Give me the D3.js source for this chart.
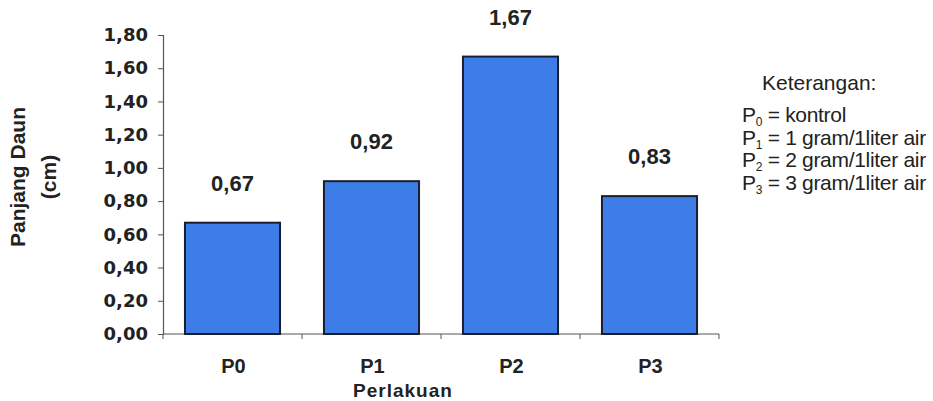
<!DOCTYPE html>
<html>
<head>
<meta charset="utf-8">
<script src="https://cdn.jsdelivr.net/npm/d3@7"></script>
<style>
  html, body { margin: 0; padding: 0; background: #fff; }
  svg { display: block; }
</style>
</head>
<body>
<svg id="chart" width="933" height="401"></svg>
<script>
// Panjang daun per perlakuan
const categories = ["P0", "P1", "P2", "P3"];
const values = [0.67, 0.92, 1.67, 0.83];
const yTicks = [0, 0.2, 0.4, 0.6, 0.8, 1.0, 1.2, 1.4, 1.6, 1.8];
const legendTitle = "Keterangan:";
const legendItems = [
  { sub: "0", text: " = kontrol" },
  { sub: "1", text: " = 1 gram/1liter air" },
  { sub: "2", text: " = 2 gram/1liter air" },
  { sub: "3", text: " = 3 gram/1liter air" }
];
const yTitle = ["Panjang Daun", "(cm)"];
const xTitle = "Perlakuan";

const fmt = v => d3.format(".2f")(v).replace(".", ",");

const svg = d3.select("#chart");
const ink = "#222";

const y = d3.scaleLinear().domain([0, 1.8]).range([334, 35]);
const x = d3.scaleBand().domain(categories).range([163, 719])
  .paddingInner(0.316).paddingOuter(0.158);

// y axis
const gy = svg.append("g").attr("transform", "translate(163,0)")
  .call(d3.axisLeft(y).tickValues(yTicks).tickSize(5).tickPadding(10).tickFormat(fmt));
gy.select(".domain").attr("stroke", "#555").attr("stroke-width", 1.2);
gy.selectAll(".tick line").attr("stroke", "#555");
gy.selectAll(".tick text")
  .attr("fill", ink)
  .style("font-family", "'DejaVu Sans', sans-serif")
  .style("font-weight", "bold")
  .style("font-size", "18px");

// x axis baseline and separators between categories
const edges = d3.range(categories.length + 1).map(i => x.range()[0] + i * x.step());
svg.append("line")
  .attr("x1", edges[0]).attr("x2", edges[edges.length - 1])
  .attr("y1", y(0)).attr("y2", y(0))
  .attr("stroke", "#555").attr("stroke-width", 1.2);
svg.append("g").selectAll("line").data(edges).join("line")
  .attr("x1", d => d).attr("x2", d => d)
  .attr("y1", y(0)).attr("y2", y(0) + 5)
  .attr("stroke", "#555");

// bars
svg.append("g").selectAll("rect").data(values).join("rect")
  .attr("x", (d, i) => x(categories[i]))
  .attr("y", d => y(d))
  .attr("width", x.bandwidth())
  .attr("height", d => y(0) - y(d))
  .attr("fill", "#3c7de8")
  .attr("stroke", "#1a1f2e")
  .attr("stroke-width", 2);

// value labels
svg.append("g").selectAll("text").data(values).join("text")
  .attr("x", (d, i) => x(categories[i]) + x.bandwidth() / 2)
  .attr("y", d => y(d) - 32)
  .attr("text-anchor", "middle")
  .attr("fill", ink)
  .style("font-family", "'Liberation Sans', Arial, sans-serif")
  .style("font-weight", "bold")
  .style("font-size", "22px")
  .text(fmt);

// category labels
svg.append("g").selectAll("text").data(categories).join("text")
  .attr("x", d => x(d) + x.bandwidth() / 2 + 1)
  .attr("y", 373)
  .attr("text-anchor", "middle")
  .attr("fill", ink)
  .style("font-family", "'Liberation Sans', Arial, sans-serif")
  .style("font-weight", "bold")
  .style("font-size", "20px")
  .text(d => d);

// x title
svg.append("text")
  .attr("x", 403).attr("y", 397)
  .attr("text-anchor", "middle")
  .attr("fill", ink)
  .style("font-family", "'Liberation Sans', Arial, sans-serif")
  .style("font-weight", "bold")
  .style("font-size", "19px")
  .style("letter-spacing", "1px")
  .text(xTitle);

// y title (two lines)
const yt = svg.append("text")
  .attr("transform", "translate(25,177) rotate(-90)")
  .attr("text-anchor", "middle")
  .attr("fill", ink)
  .style("font-family", "'Liberation Sans', Arial, sans-serif")
  .style("font-weight", "bold")
  .style("font-size", "21px");
yt.selectAll("tspan").data(yTitle).join("tspan")
  .attr("x", 0).attr("dy", (d, i) => i === 0 ? 0 : 31)
  .text(d => d);

// legend
const lg = svg.append("g")
  .style("font-family", "'Liberation Sans', Arial, sans-serif")
  .style("font-size", "21px")
  .attr("fill", ink);
lg.append("text").attr("x", 762).attr("y", 90).text(legendTitle);
legendItems.forEach((it, i) => {
  const t = lg.append("text").attr("x", 742).attr("y", 122 + i * 22.7)
    .style("letter-spacing", "-0.3px");
  t.append("tspan").text("P");
  t.append("tspan").attr("dy", 4).style("font-size", "12px").text(it.sub);
  t.append("tspan").attr("dy", -4).text(it.text);
});
</script>
</body>
</html>
